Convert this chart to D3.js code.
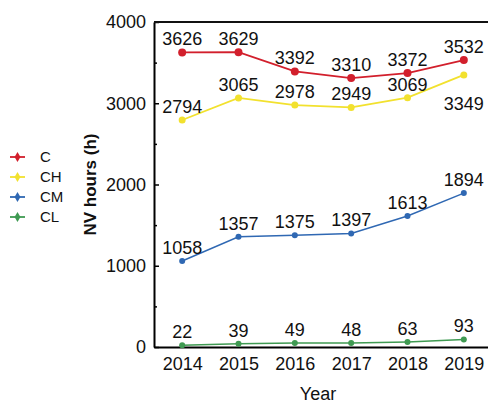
<!DOCTYPE html>
<html>
<head>
<meta charset="utf-8">
<script src="https://cdn.jsdelivr.net/npm/d3@7"></script>
<style>
  body { margin: 0; background: white; }
  text { font-family: Arial, "Liberation Sans", sans-serif; fill: #111; }
</style>
</head>
<body>
<div id="chart"></div>
<script>
const years = [2014, 2015, 2016, 2017, 2018, 2019];
const seriesNames = ["C", "CH", "CM", "CL"];
const valuesC = [3626, 3629, 3392, 3310, 3372, 3532];
const valuesCH = [2794, 3065, 2978, 2949, 3069, 3349];
const valuesCM = [1058, 1357, 1375, 1397, 1613, 1894];
const valuesCL = [22, 39, 49, 48, 63, 93];
const yTicks = [0, 1000, 2000, 3000, 4000];
const yMinorTicks = [500, 1500, 2500, 3500];

const width = 488;
const height = 403;
const margin = { top: 22, right: -4, bottom: 56, left: 154 };

const colors = { C: "#d21f2c", CH: "#f2e12e", CM: "#2f68b3", CL: "#3f9a52" };
const radius = { C: 4, CH: 3.5, CM: 3, CL: 3 };

const series = [
  { name: "C", values: valuesC },
  { name: "CH", values: valuesCH },
  { name: "CM", values: valuesCM },
  { name: "CL", values: valuesCL }
];

const svg = d3.select("#chart").append("svg")
  .attr("width", width)
  .attr("height", height);

const x = d3.scalePoint()
  .domain(years)
  .range([margin.left, width - margin.right])
  .padding(0.5);

const y = d3.scaleLinear()
  .domain([0, 4000])
  .range([height - margin.bottom, margin.top]);

// minor ticks (inside)
svg.append("g")
  .attr("transform", `translate(${margin.left},0)`)
  .call(d3.axisLeft(y).tickValues(yMinorTicks).tickSize(-3).tickFormat(""))
  .call(g => g.select(".domain").remove())
  .call(g => g.selectAll("line").attr("stroke-width", 1.5));

// y axis
svg.append("g")
  .attr("transform", `translate(${margin.left},0)`)
  .call(d3.axisLeft(y).tickValues(yTicks).tickFormat(d3.format("d"))
    .tickSize(-5).tickPadding(8).tickSizeOuter(0))
  .call(g => g.select(".domain").attr("stroke-width", 2))
  .call(g => g.selectAll("line").attr("stroke-width", 1.5))
  .call(g => g.selectAll("text").attr("font-size", "18px"));

// x axis
svg.append("g")
  .attr("transform", `translate(0,${height - margin.bottom})`)
  .call(d3.axisBottom(x).tickFormat(d3.format("d")).tickSize(0).tickPadding(10).tickSizeOuter(0))
  .call(g => g.select(".domain").attr("stroke-width", 2))
  .call(g => g.selectAll("text").attr("font-size", "18px"));

// top frame line
svg.append("line")
  .attr("x1", margin.left).attr("x2", width)
  .attr("y1", margin.top).attr("y2", margin.top)
  .attr("stroke", "#111").attr("stroke-width", 2);

// axis titles
svg.append("text")
  .attr("transform", `translate(96,${(margin.top + height - margin.bottom) / 2}) rotate(-90)`)
  .attr("text-anchor", "middle")
  .attr("font-size", "17px")
  .attr("font-weight", "bold")
  .text("NV hours (h)");

svg.append("text")
  .attr("x", 318)
  .attr("y", 400)
  .attr("text-anchor", "middle")
  .attr("font-size", "18px")
  .text("Year");

const line = d3.line()
  .x((d, i) => x(years[i]))
  .y(d => y(d));

for (const s of series) {
  const g = svg.append("g");

  g.append("path")
    .datum(s.values)
    .attr("fill", "none")
    .attr("stroke", colors[s.name])
    .attr("stroke-width", s.name === "C" || s.name === "CH" ? 1.8 : 1.5)
    .attr("d", line);

  g.selectAll("circle")
    .data(s.values)
    .join("circle")
    .attr("cx", (d, i) => x(years[i]))
    .attr("cy", d => y(d))
    .attr("r", radius[s.name])
    .attr("fill", colors[s.name]);

  g.selectAll("text")
    .data(s.values)
    .join("text")
    .attr("x", (d, i) => x(years[i]))
    // CH 2019 label sits under the point
    .attr("y", (d, i) => y(d) + (s.name === "CH" && i === years.length - 1 ? 35 : -7))
    .attr("text-anchor", "middle")
    .attr("font-size", "18px")
    .text(d => d);
}

// legend
const legend = svg.append("g");
seriesNames.forEach((name, i) => {
  const ly = 157 + i * 20;
  legend.append("line")
    .attr("x1", 10).attr("x2", 25)
    .attr("y1", ly).attr("y2", ly)
    .attr("stroke", colors[name]).attr("stroke-width", 1.8);
  legend.append("path")
    .attr("transform", `translate(17.5,${ly})`)
    .attr("d", d3.symbol(d3.symbolDiamond, 30)())
    .attr("fill", colors[name]);
  legend.append("text")
    .attr("x", 40)
    .attr("y", ly)
    .attr("dy", "0.35em")
    .attr("font-size", "15px")
    .text(name);
});
</script>
</body>
</html>
